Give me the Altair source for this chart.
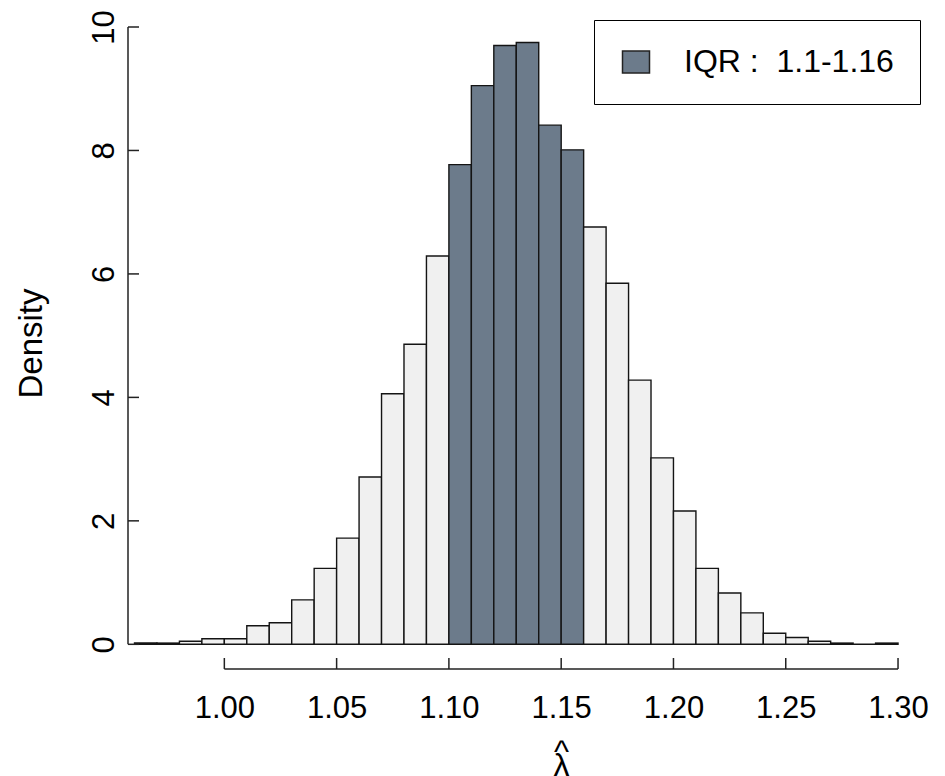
import altair as alt
import pandas as pd

# ---- data (bin width 0.01) ----
bin_start = [0.96, 0.97, 0.98, 0.99, 1.00, 1.01, 1.02, 1.03, 1.04, 1.05,
             1.06, 1.07, 1.08, 1.09, 1.10, 1.11, 1.12, 1.13, 1.14, 1.15,
             1.16, 1.17, 1.18, 1.19, 1.20, 1.21, 1.22, 1.23, 1.24, 1.25,
             1.26, 1.27, 1.28, 1.29]
bin_end = [0.97, 0.98, 0.99, 1.00, 1.01, 1.02, 1.03, 1.04, 1.05, 1.06,
           1.07, 1.08, 1.09, 1.10, 1.11, 1.12, 1.13, 1.14, 1.15, 1.16,
           1.17, 1.18, 1.19, 1.20, 1.21, 1.22, 1.23, 1.24, 1.25, 1.26,
           1.27, 1.28, 1.29, 1.30]
density = [0.02, 0.02, 0.05, 0.09, 0.09, 0.30, 0.35, 0.72, 1.23, 1.72,
           2.71, 4.06, 4.86, 6.29, 7.77, 9.05, 9.70, 9.75, 8.41, 8.01,
           6.76, 5.85, 4.28, 3.02, 2.16, 1.23, 0.83, 0.51, 0.18, 0.11,
           0.05, 0.02, 0.00, 0.02]
iqr_bins = [1.10, 1.11, 1.12, 1.13, 1.14, 1.15]
x_ticks = [1.00, 1.05, 1.10, 1.15, 1.20, 1.25, 1.30]
y_ticks = [0, 2, 4, 6, 8, 10]
IQR_LABEL = "IQR :\u00a0\u00a01.1-1.16"
OTHER_LABEL = "other"

FONT = "Liberation Sans"
W, H = 799, 642
TICK = 11

groups = [IQR_LABEL if any(abs(s - b) < 1e-9 for b in iqr_bins) else OTHER_LABEL
          for s in bin_start]
bars_df = pd.DataFrame({"start": bin_start, "end": bin_end,
                        "density": density, "zero": [0.0] * len(bin_start),
                        "grp": groups})
xt_df = pd.DataFrame({"start": x_ticks})
yt_df = pd.DataFrame({"zero": y_ticks})
xline_df = pd.DataFrame({"start": [min(x_ticks)], "end": [max(x_ticks)]})
yline_df = pd.DataFrame({"zero": [min(y_ticks)], "density": [max(y_ticks)]})

xscale = alt.Scale(domain=[0.9571, 1.3129], nice=False, zero=False)
yscale = alt.Scale(domain=[-0.4, 10], nice=False, zero=False)

xaxis = alt.Axis(values=x_ticks, format=".2f", domain=False, ticks=False,
                 grid=False, labelFont=FONT, labelFontSize=31,
                 labelColor="black", labelBaseline="alphabetic",
                 labelPadding=48, labelFlush=False,
                 title=["^", "λ"], titleFont=FONT, titleFontSize=32,
                 titleFontWeight="normal", titleColor="black",
                 titleLineHeight=14, titleBaseline="alphabetic",
                 titleAlign="center", titleX=433, titleY=92)
yaxis = alt.Axis(values=y_ticks, format="d", domain=False, ticks=False,
                 grid=False, labelFont=FONT, labelFontSize=31,
                 labelColor="black", labelAngle=270, labelAlign="center",
                 labelBaseline="alphabetic", labelPadding=15,
                 labelFlush=False,
                 title="Density", titleFont=FONT, titleFontSize=33,
                 titleFontWeight="normal", titleColor="black",
                 titleAngle=270, titleAlign="center",
                 titleBaseline="alphabetic", titleX=-87, titleY=316)

X = alt.X("start:Q", scale=xscale, axis=xaxis)
Y = alt.Y("zero:Q", scale=yscale, axis=yaxis)

bars = alt.Chart(bars_df).mark_rect(stroke="#141414", strokeWidth=1.4).encode(
    x=X,
    x2="end:Q",
    y=Y,
    y2="density:Q",
    fill=alt.Fill("grp:N",
                  scale=alt.Scale(domain=[IQR_LABEL, OTHER_LABEL],
                                  range=["#6C7B8B", "#F0F0F0"]),
                  legend=alt.Legend(values=[IQR_LABEL], title=None, orient="none",
                                    legendX=466, legendY=-7, padding=26,
                                    strokeColor="black", fillColor="white",
                                    labelFont=FONT, labelFontSize=32,
                                    labelColor="black", labelLimit=500,
                                    labelOffset=32,
                                    symbolType="M-1,-0.81H1V0.81H-1Z",
                                    symbolSize=729, symbolStrokeColor="#222222",
                                    symbolStrokeWidth=1.5, symbolOpacity=1)),
)

x_line = alt.Chart(xline_df).mark_rule(color="#222222", strokeWidth=1.5).encode(
    x=X, x2="end:Q", y=alt.value(H),
)
x_tk = alt.Chart(xt_df).mark_rule(color="#222222", strokeWidth=1.5).encode(
    x=X, y=alt.value(H), y2=alt.value(H - TICK),
)
y_line = alt.Chart(yline_df).mark_rule(color="#222222", strokeWidth=1.5).encode(
    y=Y, y2="density:Q", x=alt.value(0),
)
y_tk = alt.Chart(yt_df).mark_rule(color="#222222", strokeWidth=1.5).encode(
    y=Y, x=alt.value(0), x2=alt.value(TICK),
)

chart = alt.layer(bars, x_line, x_tk, y_line, y_tk).resolve_axis(
    x="shared", y="shared"
).properties(
    width=W, height=H,
    autosize=alt.AutoSizeParams(type="none"),
    padding={"left": 120, "top": 19, "right": 10, "bottom": 107},
    background="white",
).configure_view(stroke=None)

chart.save("out.html", embed_options={"renderer": "svg", "actions": False})
